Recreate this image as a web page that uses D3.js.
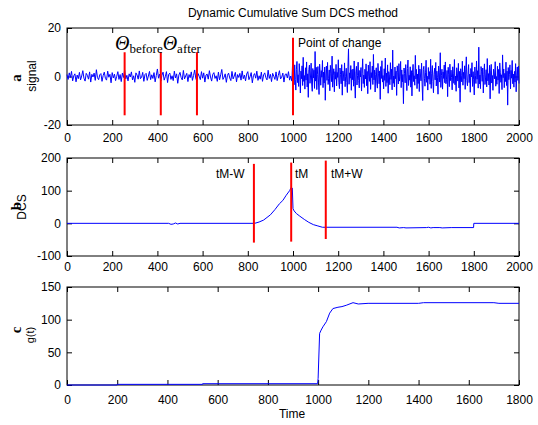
<!DOCTYPE html>
<html><head><meta charset="utf-8">
<script src="https://cdn.jsdelivr.net/npm/d3@7"></script>
<style>body{margin:0;background:#fff}svg{display:block;font-family:Arial,"Liberation Sans",sans-serif}</style>
</head><body><svg id="c" width="538" height="425"></svg>
<script>
// ---- data ----
const preSignal = [0.8,-1.2,1.5,-0.4,2.1,-1.8,0.3,1.1,-2.2,0.6,
-0.9,1.7,-1.4,0.2,2.4,-0.7,-1.9,1.3,0.5,-1.1,
1.9,-2.3,0.9,-0.2,1.4,-1.6,2.8,-0.5,-1.3,0.7,
1.2,-2.0,0.4,1.8,-0.8,-1.5,2.2,-0.3,0.9,-2.6,
1.6,-0.6,1.0,-1.7,0.1,2.0,-1.2,0.8,-2.1,1.4,
-0.4,2.6,-1.0,0.5,-1.8,1.1,-0.2,1.9,-1.4,0.3,
-2.4,1.5,0.6,-1.1,2.3,-0.9,-0.3,1.7,-2.0,0.8,
1.3,-1.6,0.2,2.1,-1.3,0.7,-0.8,1.6,-2.2,0.4,
3.1,-0.7,1.0,-1.9,0.5,1.8,-1.5,-0.1,2.0,-2.5,
0.9,1.4,-1.2,0.3,-1.7,2.2,-0.6,1.1,-2.8,0.6,
1.7,-0.4,-1.4,2.5,-1.0,0.2,1.3,-2.1,0.8,-0.5,
1.9,-1.6,0.4,2.7,-0.9,-1.8,1.2,0.1,-1.3,2.0,
-0.7,1.5,-2.3,0.6,1.0,-1.1,2.4,-0.2,-1.9,0.9,
1.6,-0.8,0.3,-2.0,1.8,-1.4,0.7,2.9,-1.2,-0.3,
1.1,-2.4,0.5,1.4,-0.6,-1.7,2.1,-1.0,0.2,1.7,
-2.2,0.8,-0.4,1.3,-1.5,2.3,-0.9,0.6,-1.8,1.0,
2.0,-1.3,-0.1,1.6,-2.6,0.4,1.2,-0.7,2.2,-1.6,
0.3,-1.1,1.8,-2.0,0.7,1.5,-0.5,-1.4,2.6,-0.8,
0.9,-2.1,1.3,0.1,-1.2,1.9,-1.7,0.5,2.4,-1.0,
-0.3,1.4,-2.3,0.8,1.1,-0.6,2.0,-1.5,0.2,-1.9];
const postSignal = [9.5,2.1,-3.4,4.8,-1.2,-5.6,3.0,6.2,-2.5,0.7,
-4.1,5.3,1.6,-6.8,2.2,-0.9,4.4,-3.7,7.9,-2.0,
0.4,-5.2,3.6,-1.5,6.0,-4.3,1.1,-8.6,2.9,4.7,
-2.8,0.2,5.5,-3.1,-6.1,3.3,-0.6,2.6,-4.9,10.3,
-1.9,3.8,-5.4,0.9,4.1,-2.3,-7.4,5.1,1.4,-3.6,
2.4,-0.3,6.6,-4.6,1.8,-2.7,3.9,-9.8,0.6,4.3,
-1.6,5.8,-3.3,-0.8,2.7,-5.9,4.6,1.2,-2.1,8.4,
-4.4,0.5,3.2,-6.3,2.0,-1.1,5.0,-3.9,1.7,-0.4,
6.9,-2.6,-5.0,3.5,0.8,-3.0,4.9,-7.7,2.3,1.0,
-1.8,5.6,-4.2,0.1,3.4,-2.4,-6.6,4.0,11.4,-3.2,
1.5,-0.7,4.5,-5.7,2.8,-1.3,3.1,-4.0,6.4,-2.2,
-8.9,1.9,4.2,-3.5,0.3,5.9,-1.7,-4.7,2.5,-0.2,
3.7,-6.0,1.3,7.3,-2.9,0.6,-4.5,3.0,-1.0,5.2,
-3.8,2.1,-7.1,4.7,0.0,-2.0,6.1,-5.3,1.6,-0.5,
4.3,-3.3,9.1,-1.4,2.6,-6.4,0.9,3.6,-2.7,-4.8,
5.4,1.1,-3.0,2.3,-9.4,4.1,-0.8,6.5,-2.3,0.4,
-5.1,3.2,-1.6,7.6,-4.1,1.4,-2.5,4.8,-6.9,2.0,
0.7,-3.4,5.7,-1.2,3.0,-5.5,10.9,-2.8,0.2,-4.3,
3.9,-0.9,2.2,-7.8,4.4,1.7,-3.1,5.3,-1.9,-0.1,
6.2,-4.6,2.7,-2.2,0.8,-11.2,3.5,1.2,-2.6,4.9,
-0.6,-5.8,3.3,6.8,-3.7,0.5,-1.5,4.0,-4.4,2.4,
-8.0,1.8,5.0,-2.1,0.3,-3.6,8.7,-1.0,2.9,-5.0,
1.0,-2.9,4.6,-6.2,3.1,0.6,-1.8,5.5,-3.5,-9.9,
2.8,4.2,-0.7,-4.0,1.5,6.7,-2.4,0.1,-5.6,3.7,
-1.1,2.0,-3.2,7.1,-4.9,1.3,4.5,-2.0,-6.7,0.9,
3.4,-1.4,5.8,-3.9,2.2,-0.3,-7.3,4.3,1.6,-2.3,
9.8,-4.5,0.4,3.0,-5.2,1.9,-0.8,4.7,-2.6,6.0,
-3.0,-1.2,2.5,-8.3,3.8,0.7,-4.2,5.1,-1.7,2.6,
-0.4,-5.5,4.0,1.1,-2.8,7.0,-3.4,0.2,-6.1,3.6,
1.4,-1.9,5.4,-4.7,2.1,-10.6,3.2,0.5,-2.2,6.3,
-3.6,1.7,-0.9,4.4,-5.3,2.7,8.1,-1.6,-3.8,0.8,
4.9,-2.5,1.0,-6.5,3.3,-0.2,5.7,-4.1,2.0,-1.3,
-7.6,3.9,0.3,-2.9,6.4,-1.1,2.4,-4.8,12.1,-3.1,
0.6,-5.0,4.1,1.9,-2.0,3.5,-6.8,0.9,5.2,-3.3,
-0.6,2.8,-4.3,7.4,-1.8,1.2,-3.5,4.6,-9.2,2.3,
5.0,-2.7,0.4,-5.7,3.0,1.5,-1.0,6.1,-4.0,0.0,
-3.2,4.2,-1.5,2.9,-7.0,5.6,1.8,-2.4,0.7,-5.4,
8.9,-0.5,3.1,-4.6,1.3,-2.1,5.9,-3.7,2.2,-11.8,
3.7,-1.3,0.8,4.8,-5.1,2.5,-0.7,6.6,-3.0,1.0,
-4.4,2.1,-2.3,5.3,-6.3,0.2,3.9,-1.6,4.3,-2.9];

const dcsT = [0,450,460,470,480,490,500,830,850,870,885,900,920,940,955,970,985,992,997,1000,1005,1015,1030,1050,1070,1090,1110,1130,1460,1470,1490,1500,1590,1600,1610,1620,1650,1660,1700,1799,1800,2000];
const dcsV = [0,0,-3,-2,1,-2,0,0,4,10,18,26,42,60,70,86,100,110,108,45,38,30,22,12,3,-4,-8,-12,-12,-14,-13,-14,-13,-12,-14,-13,-13,-14,-13,-13,0,0];

const gT = [0,200,200,540,540,998,1000,1006,1012,1019,1033,1046,1059,1079,1095,1112,1139,1160,1199,1400,1420,1700,1720,1800];
const gV = [0,0,1,1,2,2,10,79,84,89,97,110,117,119,120,122,126,124,125,125,126,126,125,125];

const signalLines = [{x:255,y0:-16,y1:10},{x:415,y0:-16,y1:10},{x:575,y0:-16,y1:10},{x:1000,y0:-16,y1:16}];
const dcsLines = [{x:827,y0:-59,y1:182,label:"tM-W"},{x:992,y0:-56,y1:186,label:"tM"},{x:1145,y0:-48,y1:192,label:"tM+W"}];

const xTicksTop = [0,200,400,600,800,1000,1200,1400,1600,1800,2000];
const yTicksSignal = [-20,0,20];
const yTicksDcs = [-100,0,100,200];
const xTicksBottom = [0,200,400,600,800,1000,1200,1400,1600,1800];
const yTicksG = [0,50,100,150];

// ---- drawing ----
const svg = d3.select("#c");
const L = 67, R = 519;
const panels = [
  {top:28, bot:125, xd:[0,2000], yd:[-20,20], xt:xTicksTop, yt:yTicksSignal, pad:8},
  {top:158, bot:256, xd:[0,2000], yd:[-100,200], xt:xTicksTop, yt:yTicksDcs, pad:6},
  {top:287, bot:385, xd:[0,1800], yd:[0,150], xt:xTicksBottom, yt:yTicksG, pad:10}
];
panels.forEach(p => {
  p.x = d3.scaleLinear().domain(p.xd).range([L,R]);
  p.y = d3.scaleLinear().domain(p.yd).range([p.bot,p.top]);
  p.g = svg.append("g");
});

function drawAxes(p){
  const g = p.g;
  const tl = 5;
  const fmt = d => d < 0 ? "-" + Math.abs(d) : String(d);
  const ax = g.append("g").attr("transform",`translate(0,${p.bot})`)
    .call(d3.axisBottom(p.x).tickValues(p.xt).tickSize(-tl).tickPadding(p.pad).tickFormat(fmt));
  const axT = g.append("g").attr("transform",`translate(0,${p.top})`)
    .call(d3.axisTop(p.x).tickValues(p.xt).tickSize(-tl).tickFormat(""));
  const ay = g.append("g").attr("transform",`translate(${L},0)`)
    .call(d3.axisLeft(p.y).tickValues(p.yt).tickSize(-tl).tickPadding(6).tickFormat(fmt));
  const ayR = g.append("g").attr("transform",`translate(${R},0)`)
    .call(d3.axisRight(p.y).tickValues(p.yt).tickSize(-tl).tickFormat(""));
  [ax,axT,ay,ayR].forEach(a=>{
    a.selectAll(".domain").remove();
    a.selectAll("line").attr("stroke","#000");
    a.selectAll("text").attr("fill","#000").style("font-size","12px").style("font-family","Arial,'Liberation Sans',sans-serif");
  });
  g.append("rect").attr("x",L).attr("y",p.top).attr("width",R-L).attr("height",p.bot-p.top)
    .attr("fill","none").attr("stroke","#000").attr("stroke-width",1);
}

// Panel 1: signal
{
  const p = panels[0];
  drawAxes(p);
  const pts = preSignal.map((v,i)=>[i*5, v]).concat(postSignal.map((v,i)=>[1000 + i*1000/(postSignal.length-1), v]));
  p.g.append("path").datum(pts)
    .attr("d", d3.line().x(d=>p.x(d[0])).y(d=>p.y(d[1])))
    .attr("fill","none").attr("stroke","#0000ff").attr("stroke-width",1);
  p.g.selectAll(".rl").data(signalLines).join("line")
    .attr("x1",d=>p.x(d.x)).attr("x2",d=>p.x(d.x)).attr("y1",d=>p.y(d.y0)).attr("y2",d=>p.y(d.y1))
    .attr("stroke","#ff0000").attr("stroke-width",2);
  const th = p.g.append("text").attr("x",115).attr("y",50).attr("font-family","'Liberation Serif','DejaVu Serif',serif");
  th.append("tspan").text("Θ").attr("font-style","italic").attr("font-size","20px");
  th.append("tspan").text("before").attr("font-size","13px").attr("dy",3);
  th.append("tspan").text("Θ").attr("font-style","italic").attr("font-size","20px").attr("dy",-3);
  th.append("tspan").text("after").attr("font-size","13px").attr("dy",3);
  p.g.append("text").attr("x",298).attr("y",47).attr("font-size","12px").text("Point of change");
  svg.append("text").attr("transform","translate(36,76) rotate(-90)").attr("text-anchor","middle").attr("font-size","12px").text("signal");
}

// Panel 2: DCS
{
  const p = panels[1];
  drawAxes(p);
  p.g.append("path").datum(dcsT.map((t,i)=>[t,dcsV[i]]))
    .attr("d", d3.line().x(d=>p.x(d[0])).y(d=>p.y(d[1])))
    .attr("fill","none").attr("stroke","#0000ff").attr("stroke-width",1);
  p.g.selectAll(".rl").data(dcsLines).join("line")
    .attr("x1",d=>p.x(d.x)).attr("x2",d=>p.x(d.x)).attr("y1",d=>p.y(d.y0)).attr("y2",d=>p.y(d.y1))
    .attr("stroke","#ff0000").attr("stroke-width",2);
  const lx = {"tM-W":216,"tM":295,"tM+W":331};
  p.g.selectAll(".lb").data(dcsLines).join("text")
    .attr("x",d=>lx[d.label]).attr("y",178).attr("font-size","12px").text(d=>d.label);
  svg.append("text").attr("transform","translate(26,207) rotate(-90)").attr("text-anchor","middle").attr("font-size","12px").text("DCS");
}

// Panel 3: g(t)
{
  const p = panels[2];
  drawAxes(p);
  p.g.append("path").datum(gT.map((t,i)=>[t,gV[i]]))
    .attr("d", d3.line().x(d=>p.x(d[0])).y(d=>p.y(d[1])))
    .attr("fill","none").attr("stroke","#0000ff").attr("stroke-width",1);
  svg.append("text").attr("transform","translate(34,335) rotate(-90)").attr("text-anchor","middle").attr("font-size","11px").text("g(t)");
  svg.append("text").attr("x",292).attr("y",418).attr("text-anchor","middle").attr("font-size","12px").text("Time");
}

// side markers
[["a",78],["b",206],["c",330]].forEach(([t,y])=>{
  svg.append("text").attr("transform",`translate(21,${y}) rotate(-90)`).attr("text-anchor","middle")
    .attr("font-size","15px").attr("font-weight","bold").attr("font-family","'Liberation Serif',serif").text(t);
});

svg.append("text").attr("x",293).attr("y",17).attr("text-anchor","middle").attr("font-size","12px").text("Dynamic Cumulative Sum DCS method");
</script></body></html>
